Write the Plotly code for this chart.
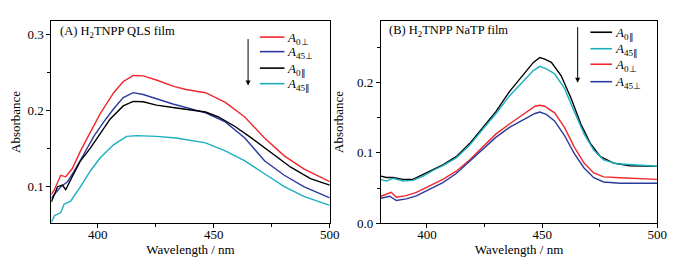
import plotly.graph_objects as go

# ---------------- Panel A: H2TNPP QLS film ----------------
wl_a_0perp = [380, 381.3, 384.1, 386.2, 389, 392.6, 396.9, 401.1, 406.8, 411, 415.3, 419.6, 425.3, 432.4, 438, 446.5, 455, 463.4, 471.9, 480.4, 488.8, 494.5, 500]
ab_a_0perp = [0.0895, 0.096, 0.115, 0.113, 0.1235, 0.147, 0.172, 0.196, 0.223, 0.238, 0.246, 0.2455, 0.240, 0.232, 0.2276, 0.2234, 0.2106, 0.1915, 0.1639, 0.1405, 0.1235, 0.115, 0.1065]

wl_a_45perp = [380, 381.3, 384.1, 387, 389.8, 394, 398.3, 402.6, 406.8, 411, 415.3, 419.6, 425.3, 432.4, 438, 446.5, 455, 463.4, 471.9, 480.4, 488.8, 500]
ab_a_45perp = [0.085, 0.0895, 0.100, 0.1065, 0.120, 0.1426, 0.166, 0.185, 0.202, 0.217, 0.2234, 0.221, 0.215, 0.2085, 0.204, 0.197, 0.185, 0.164, 0.134, 0.115, 0.100, 0.0853]

wl_a_0par = [380, 382.7, 384.8, 386.2, 389, 392.6, 396.9, 401.1, 405.4, 411, 415.3, 419.6, 425.3, 432.4, 438, 446.5, 452, 459.2, 466.2, 474.7, 483.2, 491.7, 500]
ab_a_0par = [0.080, 0.100, 0.102, 0.096, 0.113, 0.134, 0.151, 0.170, 0.189, 0.206, 0.212, 0.2115, 0.207, 0.204, 0.202, 0.198, 0.1915, 0.179, 0.164, 0.145, 0.1256, 0.1107, 0.102]

wl_a_45par = [380, 381.3, 384.1, 385.5, 388.3, 392.6, 396.9, 401.1, 406.8, 412.5, 416.8, 425.3, 433.8, 438, 446.5, 455, 463.4, 471.9, 480.4, 488.8, 500]
ab_a_45par = [0.053, 0.062, 0.066, 0.077, 0.081, 0.100, 0.121, 0.138, 0.155, 0.166, 0.167, 0.166, 0.164, 0.162, 0.1575, 0.147, 0.134, 0.117, 0.100, 0.0874, 0.0755]

# ---------------- Panel B: H2TNPP NaTP film ----------------
wl_b_0par = [380, 382.4, 385.3, 389.6, 393.9, 398.3, 402.6, 406.9, 412.7, 418.5, 424.3, 430, 435.8, 442.6, 446.2, 449, 451.1, 454, 458.2, 462.5, 466.8, 471, 475.3, 481, 488, 500]
ab_b_0par = [0.067, 0.065, 0.065, 0.0624, 0.0624, 0.0693, 0.0763, 0.083, 0.0947, 0.1132, 0.136, 0.159, 0.187, 0.2148, 0.2286, 0.2356, 0.2332, 0.2286, 0.210, 0.178, 0.141, 0.113, 0.0947, 0.0855, 0.0818, 0.0809]

wl_b_45par = [380, 382.4, 385.3, 389.6, 393.9, 398.3, 402.6, 406.9, 412.7, 418.5, 424.3, 430, 435.8, 442.6, 446.2, 449, 451.8, 455.4, 459.7, 463.9, 468.2, 472.4, 476.7, 482.4, 500]
ab_b_45par = [0.062, 0.060, 0.064, 0.060, 0.061, 0.067, 0.075, 0.082, 0.093, 0.111, 0.134, 0.156, 0.181, 0.2055, 0.217, 0.223, 0.2194, 0.2125, 0.1917, 0.1594, 0.127, 0.104, 0.090, 0.0846, 0.081]

wl_b_0perp = [380, 382.4, 384.5, 386.7, 391, 395.4, 401.2, 406.9, 412.7, 418.5, 424.3, 430, 435.8, 442.6, 446.9, 449, 451.1, 455.4, 459.7, 463.9, 468.2, 472.4, 476.7, 483.8, 500]
ab_b_0perp = [0.0384, 0.0416, 0.044, 0.037, 0.0393, 0.044, 0.053, 0.0624, 0.074, 0.090, 0.1086, 0.127, 0.141, 0.157, 0.1663, 0.1677, 0.1663, 0.157, 0.1363, 0.1086, 0.0855, 0.0716, 0.066, 0.0647, 0.0624]

wl_b_45perp = [380, 383.8, 386.7, 391, 395.4, 401.2, 406.9, 412.7, 418.5, 424.3, 430, 435.8, 442.6, 446.9, 449, 451.8, 455.4, 459.7, 463.9, 468.2, 472.4, 476.7, 483.8, 500]
ab_b_45perp = [0.0356, 0.0384, 0.0324, 0.0347, 0.039, 0.0486, 0.0578, 0.0707, 0.0878, 0.1063, 0.1224, 0.1363, 0.149, 0.156, 0.158, 0.1548, 0.1455, 0.1247, 0.0993, 0.0786, 0.0647, 0.0587, 0.0569, 0.0569]

lbl_0perp = "<i>A</i><sub>0\u22a5</sub>"
lbl_45perp = "<i>A</i><sub>45\u22a5</sub>"
lbl_0par = "<i>A</i><sub>0\u2225</sub>"
lbl_45par = "<i>A</i><sub>45\u2225</sub>"

RED = "#f0282d"
BLUE = "#2b3a9e"
BLACK = "#000000"
CYAN = "#1aaebf"

W, H = 680, 264
FONT = "Liberation Serif"

fig = go.Figure()

def px_x(p):
    return p / W

def px_y(p):
    return 1 - p / H

def add(x, y, name, color, xa, ya):
    fig.add_trace(go.Scatter(x=x, y=y, name=name, mode="lines",
                             line=dict(color=color, width=1.4),
                             xaxis=xa, yaxis=ya, showlegend=False))

series_a = [(wl_a_0perp, ab_a_0perp, lbl_0perp, RED),
            (wl_a_45perp, ab_a_45perp, lbl_45perp, BLUE),
            (wl_a_0par, ab_a_0par, lbl_0par, BLACK),
            (wl_a_45par, ab_a_45par, lbl_45par, CYAN)]
series_b = [(wl_b_0par, ab_b_0par, lbl_0par, BLACK),
            (wl_b_45par, ab_b_45par, lbl_45par, CYAN),
            (wl_b_0perp, ab_b_0perp, lbl_0perp, RED),
            (wl_b_45perp, ab_b_45perp, lbl_45perp, BLUE)]

for x, y, n, c in series_a:
    add(x, y, n, c, "x", "y")
for x, y, n, c in series_b:
    add(x, y, n, c, "x2", "y2")

# legend drawn as line samples + labels (paper coordinates)
def legend(series, x0, x1, xt, rows):
    for (x, y, n, c), r in zip(series, rows):
        fig.add_shape(type="line", xref="paper", yref="paper",
                      x0=px_x(x0), x1=px_x(x1), y0=px_y(r), y1=px_y(r),
                      line=dict(color=c, width=1.6))
        fig.add_annotation(xref="paper", yref="paper", x=px_x(xt), y=px_y(r + 1),
                           xanchor="left", yanchor="middle", showarrow=False,
                           text=n, font=dict(family=FONT, size=13, color="black"))

legend(series_a, 255, 280, 281, [30, 45, 62, 78])
legend(series_b, 591, 613, 614, [25, 42, 58, 76])

axis_common = dict(showline=True, linecolor="black", linewidth=1, mirror=True,
                   ticks="outside", ticklen=4, tickwidth=1, tickcolor="black",
                   showgrid=False, zeroline=False,
                   tickfont=dict(family=FONT, size=13, color="black"))

xcommon = dict(axis_common, range=[380, 500], tick0=400, dtick=50,
               ticklabelstandoff=-5,
               minor=dict(dtick=25, ticks="outside", ticklen=3, tickcolor="black"),
               title=dict(text="Wavelength / nm", font=dict(family=FONT, size=13, color="black"), standoff=3))

ytitle = dict(text="Absorbance", font=dict(family=FONT, size=13, color="black"), standoff=10)

fig.update_layout(
    width=W, height=H,
    margin=dict(l=0, r=0, t=0, b=0),
    paper_bgcolor="white", plot_bgcolor="white",
    font=dict(family=FONT, color="black"),
    xaxis=dict(xcommon, domain=[px_x(43), px_x(326)], anchor="y"),
    xaxis2=dict(xcommon, domain=[px_x(378), px_x(659)], anchor="y2"),
    yaxis=dict(axis_common, domain=[px_y(222), px_y(13)], anchor="x",
               range=[0.052, 0.318], tick0=0, dtick=0.1, tickformat=".1f",
               minor=dict(dtick=0.05, ticks="outside", ticklen=3, tickcolor="black"),
               title=ytitle),
    yaxis2=dict(axis_common, domain=[px_y(222), px_y(13)], anchor="x2",
                range=[0.0, 0.288], tick0=0, dtick=0.1, tickformat=".1f",
                minor=dict(dtick=0.05, ticks="outside", ticklen=3, tickcolor="black"),
                title=ytitle),
    showlegend=False,
)

fig.add_annotation(xref="paper", yref="paper", x=px_x(50), y=px_y(25),
                   xanchor="left", yanchor="middle", showarrow=False,
                   text="(A) H<sub>2</sub>TNPP QLS film",
                   font=dict(family=FONT, size=12.5, color="black"))
fig.add_annotation(xref="paper", yref="paper", x=px_x(384), y=px_y(24),
                   xanchor="left", yanchor="middle", showarrow=False,
                   text="(B) H<sub>2</sub>TNPP NaTP film",
                   font=dict(family=FONT, size=12.5, color="black"))

# downward arrows beside legends
fig.add_annotation(xref="paper", yref="paper", x=px_x(243), y=px_y(80),
                   ax=0, ay=-48, axref="pixel", ayref="pixel", text="",
                   showarrow=True, arrowhead=2, arrowsize=1, arrowwidth=1, arrowcolor="black")
fig.add_annotation(xref="paper", yref="paper", x=px_x(578), y=px_y(77),
                   ax=0, ay=-57, axref="pixel", ayref="pixel", text="",
                   showarrow=True, arrowhead=2, arrowsize=1, arrowwidth=1, arrowcolor="black")

fig.write_html("out.html")
